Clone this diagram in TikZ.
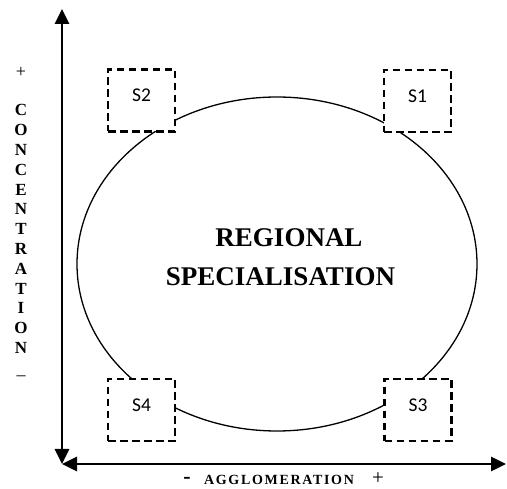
\documentclass[tikz,border=0pt]{standalone}
\usepackage{fontspec}
\setmainfont{Liberation Serif}
\newfontfamily\boxfont{Carlito}
\usetikzlibrary{arrows.meta, shapes.geometric}

\begin{document}
\begin{tikzpicture}[x=1pt, y=-1pt,
            axis/.style={line width=2.6pt, {Triangle[length=15pt,width=14pt]}-{Triangle[length=15pt,width=14pt]}},
            sbox/.style={draw, dash pattern=on 7.5pt off 4.5pt, line width=2.5pt, fill=white,
                         minimum width=67pt, minimum height=62pt, inner sep=0},
            slabel/.style={font=\boxfont\fontsize{19.5}{19.5}\selectfont, inner sep=0},
            title/.style={font=\bfseries\fontsize{27}{27}\selectfont, inner sep=0},
            axlabel/.style={font=\bfseries\fontsize{17}{19.8}\selectfont, align=center, inner sep=0}]
        \useasboundingbox (0,0) rectangle (507,489);

        % axes
        \coordinate (o) at (62,464);
        \coordinate (top) at (62,9);
        \coordinate (right) at (506,464);
        \draw [axis] (top) -- (o);
        \draw [axis] (o) -- (right);

        % the region
        \node (region) [draw, ellipse, line width=1.3pt, inner sep=0,
                        minimum width=400pt, minimum height=334pt] at (277,264) {};

        % quadrants
        \node (s2) [sbox] at (141.5,100.5) {};
        \node (s1) [sbox] at (417.5,101) {};
        \node (s4) [sbox] at (141.5,410) {};
        \node (s3) [sbox] at (418,410) {};
        \node [slabel] at ([yshift=5pt]s2.center) {S2};
        \node [slabel] at ([yshift=5pt]s1.center) {S1};
        \node [slabel] at ([yshift=5pt]s4.center) {S4};
        \node [slabel] at ([yshift=5pt]s3.center) {S3};

        \node (title1) [title] at (289,238) {REGIONAL};
        \node (title2) [title] at (280.5,277) {SPECIALISATION};

        % axis labels
        \node (cplus) [font=\fontsize{18}{18}\selectfont, inner sep=0] at (21,72) {+};
        \node (conc) [axlabel] at (21,229) {C\\O\\N\\C\\E\\N\\T\\R\\A\\T\\I\\O\\N};
        \node (cminus) [font=\fontsize{18}{18}\selectfont, inner sep=0] at (21,378) {--};
        \node (aminus) [font=\bfseries\fontsize{22}{22}\selectfont, inner sep=0] at (187,480) {-};
        \node (aggl) [font=\bfseries\fontsize{14}{14}\addfontfeature{LetterSpace=12}\selectfont, inner sep=0] at (279,480) {AGGLOMERATION};
        \node (aplus) [font=\fontsize{21}{21}\selectfont, inner sep=0] at (378,478.5) {+};
    \end{tikzpicture}
\end{document}
